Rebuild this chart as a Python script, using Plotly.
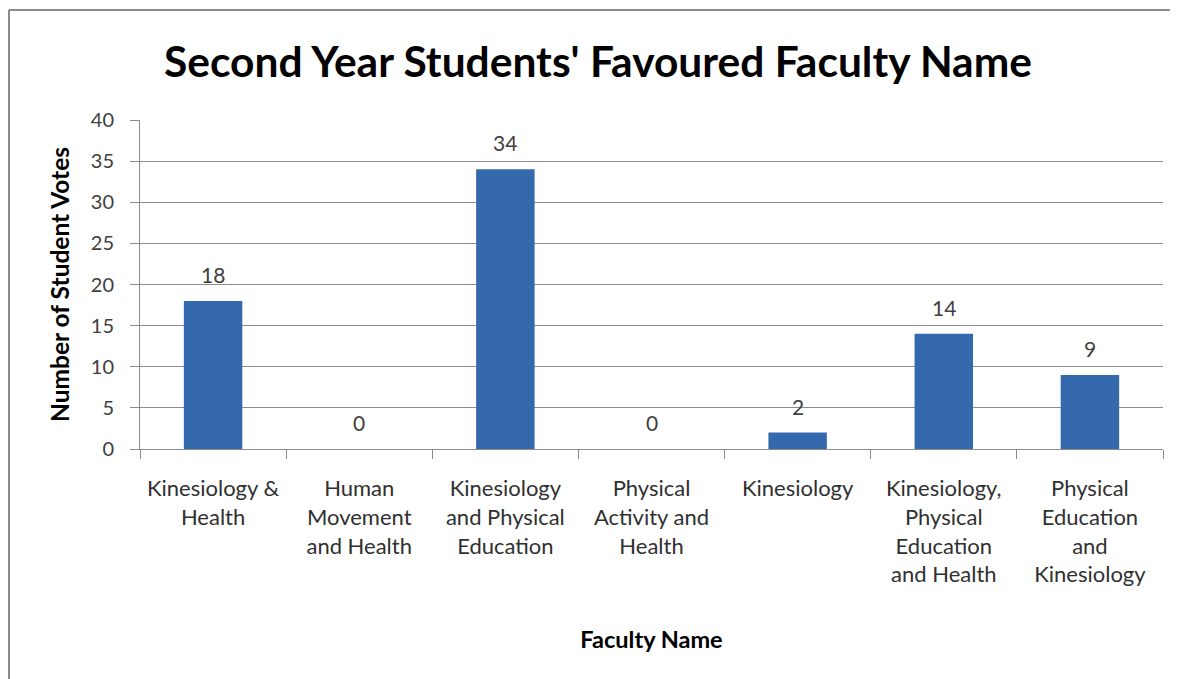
import plotly.graph_objects as go

categories = [
    "Kinesiology &<br>Health",
    "Human<br>Movement<br>and Health",
    "Kinesiology<br>and Physical<br>Education",
    "Physical<br>Activity and<br>Health",
    "Kinesiology",
    "Kinesiology,<br>Physical<br>Education<br>and Health",
    "Physical<br>Education<br>and<br>Kinesiology",
]
votes = [18, 0, 34, 0, 2, 14, 9]
y_ticks = [0, 5, 10, 15, 20, 25, 30, 35, 40]

FONT = "Lato"
GRID = "#8c8c8c"
TXT = "#404040"

# page body has an 8px margin
W, H = 1178, 679
OFF = 8

fig = go.Figure()
fig.add_trace(go.Bar(
    x=categories, y=votes, width=0.4,
    marker=dict(color="#3569ae", line=dict(width=0)),
    showlegend=False, hoverinfo="x+y",
))

for c, v in zip(categories, votes):
    fig.add_annotation(x=c, y=v, text=str(v), showarrow=False,
                       yanchor="bottom", yshift=12,
                       font=dict(family=FONT, size=21, color=TXT))

# plot area in screen pixels
px0, px1, py0, py1 = 140, 1163, 449, 120
def xp(p): return (p - px0) / (px1 - px0)
def yp(p): return (py0 - p) / (py0 - py1)
fig.add_shape(type="line", xref="paper", yref="paper",
              x0=xp(9), x1=xp(1190), y0=yp(10), y1=yp(10),
              line=dict(color="#8a8a8a", width=2))
fig.add_shape(type="line", xref="paper", yref="paper",
              x0=xp(9), x1=xp(9), y0=yp(10), y1=yp(695),
              line=dict(color="#8a8a8a", width=2))

fig.update_layout(
    width=W, height=H,
    margin=dict(l=px0 - OFF, r=W - (px1 - OFF), t=py1 - OFF, b=H - (py0 - OFF)),
    paper_bgcolor="white", plot_bgcolor="white",
    font=dict(family=FONT, color=TXT),
    title=dict(text="<b>Second Year Students' Favoured Faculty Name</b>",
               x=(598 - OFF) / W, xanchor="center", y=1 - (62 - OFF) / H, yanchor="middle",
               font=dict(family=FONT, size=42.5, color="black")),
)
fig.update_xaxes(
    type="category", tickson="boundaries", ticks="outside", ticklen=9,
    tickcolor=GRID, showline=True, linecolor=GRID, linewidth=1,
    showgrid=False, tickfont=dict(family=FONT, size=22, color="#303030"),
    ticklabelstandoff=20,
    title=dict(text="<b>Faculty Name</b>", font=dict(family=FONT, size=23.5, color="black"),
               standoff=45),
    fixedrange=True,
)
fig.update_yaxes(
    range=[0, 40], tickvals=y_ticks, ticks="outside", ticklen=9,
    tickcolor=GRID, showline=True, linecolor=GRID, linewidth=1,
    showgrid=True, gridcolor=GRID, gridwidth=1, zeroline=False,
    tickfont=dict(family=FONT, size=20, color=TXT), ticklabelstandoff=12,
    title=dict(text="<b>Number of Student Votes</b>",
               font=dict(family=FONT, size=24.5, color="black"), standoff=14),
    fixedrange=True,
)

fig.write_html("out.html")
